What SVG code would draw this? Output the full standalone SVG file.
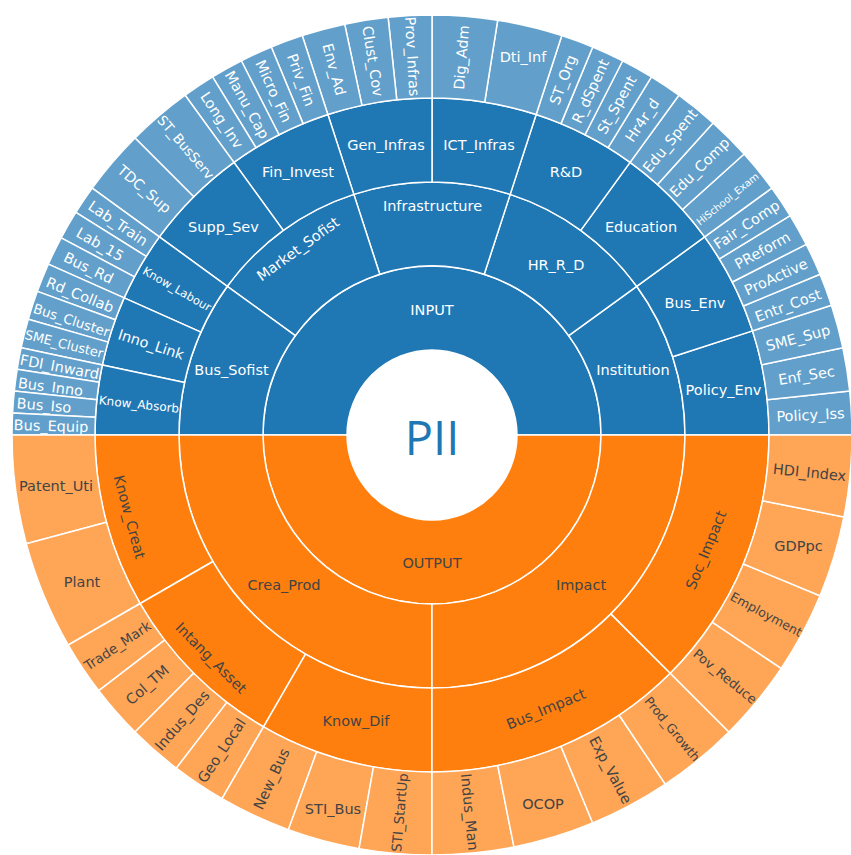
<svg xmlns="http://www.w3.org/2000/svg" width="851" height="855" viewBox="0 0 851 855">
<style>
.s{stroke:#fff;stroke-width:1.5;stroke-linejoin:round}
.a{fill:#1f77b4}.b{fill:#62a0cb}.c{fill:#ff7f0e}.d{fill:#ffa556}
text{font-family:"DejaVu Sans",Verdana,sans-serif;font-size:14.5px;text-anchor:middle;dominant-baseline:central}
.w{fill:#fff}.k{fill:#444}
</style>
<rect width="851" height="855" fill="#fff"/>
<g id="root-PII">
<circle cx="432" cy="435" r="85" fill="#fff"/>
<text x="432" y="437" style="font-family:'Open Sans','DejaVu Sans',sans-serif;font-size:47px;fill:#1f77b4">PII</text>
</g>
<g id="ring1">
<g id="n-INPUT"><path class="s a" d="M601,435 A169,169 0 0 0 263,435 L347,435 A85,85 0 0 1 517,435 Z"/><text class="w" x="432" y="310">INPUT</text></g>
<g id="n-OUTPUT"><path class="s c" d="M263,435 A169,169 0 0 0 601,435 L517,435 A85,85 0 0 1 347,435 Z"/><text class="k" x="432" y="563">OUTPUT</text></g>
</g>
<g id="ring2">
<g id="n-Institution"><path class="s a" d="M685,435 A253,253 0 0 0 636.68,286.29 L568.72,335.66 A169,169 0 0 1 601,435 Z"/><text class="w" x="633" y="370">Institution</text></g>
<g id="n-HR_R_D"><path class="s a" d="M636.68,286.29 A253,253 0 0 0 510.18,194.38 L484.22,274.27 A169,169 0 0 1 568.72,335.66 Z"/><text class="w" x="556" y="265">HR_R_D</text></g>
<g id="n-Infrastructure"><path class="s a" d="M510.18,194.38 A253,253 0 0 0 353.82,194.38 L379.78,274.27 A169,169 0 0 1 484.22,274.27 Z"/><text class="w" x="432.5" y="206">Infrastructure</text></g>
<g id="n-Market_Sofist"><path class="s a" d="M353.82,194.38 A253,253 0 0 0 227.32,286.29 L295.28,335.66 A169,169 0 0 1 379.78,274.27 Z"/><text class="w" transform="translate(298,249) rotate(-36)">Market_Sofist</text></g>
<g id="n-Bus_Sofist"><path class="s a" d="M227.32,286.29 A253,253 0 0 0 179,435 L263,435 A169,169 0 0 1 295.28,335.66 Z"/><text class="w" x="231.5" y="370">Bus_Sofist</text></g>
<g id="n-Crea_Prod"><path class="s c" d="M179,435 A253,253 0 0 0 432,688 L432,604 A169,169 0 0 1 263,435 Z"/><text class="k" x="284" y="585">Crea_Prod</text></g>
<g id="n-Impact"><path class="s c" d="M432,688 A253,253 0 0 0 685,435 L601,435 A169,169 0 0 1 432,604 Z"/><text class="k" x="581" y="585">Impact</text></g>
</g>
<g id="ring3">
<g id="n-Policy_Env"><path class="s a" d="M769,435 A337,337 0 0 0 752.51,330.86 L672.62,356.82 A253,253 0 0 1 685,435 Z"/><text class="w" x="723.5" y="389.5">Policy_Env</text></g>
<g id="n-Bus_Env"><path class="s a" d="M752.51,330.86 A337,337 0 0 0 704.64,236.92 L636.68,286.29 A253,253 0 0 1 672.62,356.82 Z"/><text class="w" x="695" y="302.5">Bus_Env</text></g>
<g id="n-Education"><path class="s a" d="M704.64,236.92 A337,337 0 0 0 630.08,162.36 L580.71,230.32 A253,253 0 0 1 636.68,286.29 Z"/><text class="w" x="641" y="227">Education</text></g>
<g id="n-R_D"><path class="s a" d="M630.08,162.36 A337,337 0 0 0 536.14,114.49 L510.18,194.38 A253,253 0 0 1 580.71,230.32 Z"/><text class="w" x="566" y="172">R&amp;D</text></g>
<g id="n-ICT_Infras"><path class="s a" d="M536.14,114.49 A337,337 0 0 0 432,98 L432,182 A253,253 0 0 1 510.18,194.38 Z"/><text class="w" x="479" y="145">ICT_Infras</text></g>
<g id="n-Gen_Infras"><path class="s a" d="M432,98 A337,337 0 0 0 327.86,114.49 L353.82,194.38 A253,253 0 0 1 432,182 Z"/><text class="w" x="386" y="145">Gen_Infras</text></g>
<g id="n-Fin_Invest"><path class="s a" d="M327.86,114.49 A337,337 0 0 0 233.92,162.36 L283.29,230.32 A253,253 0 0 1 353.82,194.38 Z"/><text class="w" x="298" y="172">Fin_Invest</text></g>
<g id="n-Supp_Sev"><path class="s a" d="M233.92,162.36 A337,337 0 0 0 159.36,236.92 L227.32,286.29 A253,253 0 0 1 283.29,230.32 Z"/><text class="w" x="223.5" y="227">Supp_Sev</text></g>
<g id="n-Know_Labour"><path class="s a" d="M159.36,236.92 A337,337 0 0 0 124.14,297.93 L200.87,332.10 A253,253 0 0 1 227.32,286.29 Z"/><text class="w" style="font-size:11.5px" transform="translate(177,289) rotate(30)">Know_Labour</text></g>
<g id="n-Inno_Link"><path class="s a" d="M124.14,297.93 A337,337 0 0 0 102.36,364.93 L184.53,382.40 A253,253 0 0 1 200.87,332.10 Z"/><text class="w" transform="translate(151,344.5) rotate(18)">Inno_Link</text></g>
<g id="n-Know_Absorb"><path class="s a" d="M102.36,364.93 A337,337 0 0 0 95,435 L179,435 A253,253 0 0 1 184.53,382.40 Z"/><text class="w" style="font-size:12px" transform="translate(139,404.5) rotate(6)">Know_Absorb</text></g>
<g id="n-Know_Creat"><path class="s c" d="M95,435 A337,337 0 0 0 140.15,603.50 L212.90,561.50 A253,253 0 0 1 179,435 Z"/><text class="k" transform="translate(129.5,517) rotate(75)">Know_Creat</text></g>
<g id="n-Intang_Asset"><path class="s c" d="M140.15,603.50 A337,337 0 0 0 263.50,726.85 L305.50,654.10 A253,253 0 0 1 212.90,561.50 Z"/><text class="k" transform="translate(211,658) rotate(45)">Intang_Asset</text></g>
<g id="n-Know_Dif"><path class="s c" d="M263.50,726.85 A337,337 0 0 0 432,772 L432,688 A253,253 0 0 1 305.50,654.10 Z"/><text class="k" x="356" y="721">Know_Dif</text></g>
<g id="n-Bus_Impact"><path class="s c" d="M432,772 A337,337 0 0 0 670.29,673.29 L610.90,613.90 A253,253 0 0 1 432,688 Z"/><text class="k" transform="translate(546,709) rotate(-22.5)">Bus_Impact</text></g>
<g id="n-Soc_Impact"><path class="s c" d="M670.29,673.29 A337,337 0 0 0 769,435 L685,435 A253,253 0 0 1 610.90,613.90 Z"/><text class="k" transform="translate(706,550) rotate(-67.5)">Soc_Impact</text></g>
</g>
<g id="ring4">
<g id="n-Policy_Iss"><path class="s b" d="M852,435 A420,420 0 0 0 849.70,391.10 L767.15,399.77 A337,337 0 0 1 769,435 Z"/><text class="w" transform="translate(810.5,415) rotate(-3)">Policy_Iss</text></g>
<g id="n-Enf_Sec"><path class="s b" d="M849.70,391.10 A420,420 0 0 0 842.82,347.68 L761.64,364.93 A337,337 0 0 1 767.15,399.77 Z"/><text class="w" transform="translate(806.5,375.5) rotate(-9)">Enf_Sec</text></g>
<g id="n-SME_Sup"><path class="s b" d="M842.82,347.68 A420,420 0 0 0 831.44,305.21 L752.51,330.86 A337,337 0 0 1 761.64,364.93 Z"/><text class="w" transform="translate(798,338) rotate(-15)">SME_Sup</text></g>
<g id="n-Entr_Cost"><path class="s b" d="M831.44,305.21 A420,420 0 0 0 820.03,274.27 L743.35,306.04 A337,337 0 0 1 752.51,330.86 Z"/><text class="w" transform="translate(788,305.5) rotate(-20.25)">Entr_Cost</text></g>
<g id="n-ProActive"><path class="s b" d="M820.03,274.27 A420,420 0 0 0 806.22,244.32 L732.27,282.01 A337,337 0 0 1 743.35,306.04 Z"/><text class="w" transform="translate(776,277) rotate(-24.75)">ProActive</text></g>
<g id="n-PReform"><path class="s b" d="M806.22,244.32 A420,420 0 0 0 790.11,215.55 L719.34,258.92 A337,337 0 0 1 732.27,282.01 Z"/><text class="w" transform="translate(762.5,250.5) rotate(-29.25)">PReform</text></g>
<g id="n-Fair_Comp"><path class="s b" d="M790.11,215.55 A420,420 0 0 0 771.79,188.13 L704.64,236.92 A337,337 0 0 1 719.34,258.92 Z"/><text class="w" transform="translate(746.7,224.7) rotate(-33.75)">Fair_Comp</text></g>
<g id="n-HiSchool_Exam"><path class="s b" d="M771.79,188.13 A420,420 0 0 0 744.12,153.96 L682.44,209.50 A337,337 0 0 1 704.64,236.92 Z"/><text class="w" style="font-size:10px" transform="translate(727.5,199) rotate(-39)">HiSchool_Exam</text></g>
<g id="n-Edu_Comp"><path class="s b" d="M744.12,153.96 A420,420 0 0 0 713.04,122.88 L657.50,184.56 A337,337 0 0 1 682.44,209.50 Z"/><text class="w" transform="translate(699.6,167.4) rotate(-45)">Edu_Comp</text></g>
<g id="n-Edu_Spent"><path class="s b" d="M713.04,122.88 A420,420 0 0 0 678.87,95.21 L630.08,162.36 A337,337 0 0 1 657.50,184.56 Z"/><text class="w" transform="translate(670.2,140.8) rotate(-51)">Edu_Spent</text></g>
<g id="n-Hr4r_d"><path class="s b" d="M678.87,95.21 A420,420 0 0 0 651.45,76.89 L608.08,147.66 A337,337 0 0 1 630.08,162.36 Z"/><text class="w" transform="translate(642.3,120.3) rotate(-56.25)">Hr4r_d</text></g>
<g id="n-St_Spent"><path class="s b" d="M651.45,76.89 A420,420 0 0 0 622.68,60.78 L584.99,134.73 A337,337 0 0 1 608.08,147.66 Z"/><text class="w" transform="translate(616.9,104.8) rotate(-60.75)">St_Spent</text></g>
<g id="n-R_dSpent"><path class="s b" d="M622.68,60.78 A420,420 0 0 0 592.73,46.97 L560.96,123.65 A337,337 0 0 1 584.99,134.73 Z"/><text class="w" transform="translate(590.5,91.3) rotate(-65.25)">R_dSpent</text></g>
<g id="n-ST_Org"><path class="s b" d="M592.73,46.97 A420,420 0 0 0 561.79,35.56 L536.14,114.49 A337,337 0 0 1 560.96,123.65 Z"/><text class="w" transform="translate(563,79.9) rotate(-69.75)">ST_Org</text></g>
<g id="n-Dti_Inf"><path class="s b" d="M561.79,35.56 A420,420 0 0 0 497.70,20.17 L484.72,102.15 A337,337 0 0 1 536.14,114.49 Z"/><text class="w" x="523" y="56.5">Dti_Inf</text></g>
<g id="n-Dig_Adm"><path class="s b" d="M497.70,20.17 A420,420 0 0 0 432,15 L432,98 A337,337 0 0 1 484.72,102.15 Z"/><text class="w" transform="translate(461.5,57.5) rotate(-85.5)">Dig_Adm</text></g>
<g id="n-Prov_Infras"><path class="s b" d="M432,15 A420,420 0 0 0 388.10,17.30 L396.77,99.85 A337,337 0 0 1 432,98 Z"/><text class="w" transform="translate(412.2,56.5) rotate(87)">Prov_Infras</text></g>
<g id="n-Clust_Cov"><path class="s b" d="M388.10,17.30 A420,420 0 0 0 344.68,24.18 L361.93,105.36 A337,337 0 0 1 396.77,99.85 Z"/><text class="w" transform="translate(372.8,61.2) rotate(81)">Clust_Cov</text></g>
<g id="n-Env_Ad"><path class="s b" d="M344.68,24.18 A420,420 0 0 0 302.21,35.56 L327.86,114.49 A337,337 0 0 1 361.93,105.36 Z"/><text class="w" transform="translate(334,69.4) rotate(75)">Env_Ad</text></g>
<g id="n-Priv_Fin"><path class="s b" d="M302.21,35.56 A420,420 0 0 0 271.27,46.97 L303.04,123.65 A337,337 0 0 1 327.86,114.49 Z"/><text class="w" transform="translate(301,79.9) rotate(69.75)">Priv_Fin</text></g>
<g id="n-Micro_Fin"><path class="s b" d="M271.27,46.97 A420,420 0 0 0 241.32,60.78 L279.01,134.73 A337,337 0 0 1 303.04,123.65 Z"/><text class="w" transform="translate(273.5,91.3) rotate(65.25)">Micro_Fin</text></g>
<g id="n-Manu_Cap"><path class="s b" d="M241.32,60.78 A420,420 0 0 0 212.55,76.89 L255.92,147.66 A337,337 0 0 1 279.01,134.73 Z"/><text class="w" transform="translate(247.1,104.8) rotate(60.75)">Manu_Cap</text></g>
<g id="n-Long_Inv"><path class="s b" d="M212.55,76.89 A420,420 0 0 0 185.13,95.21 L233.92,162.36 A337,337 0 0 1 255.92,147.66 Z"/><text class="w" transform="translate(221.7,120.3) rotate(56.25)">Long_Inv</text></g>
<g id="n-ST_BusServ"><path class="s b" d="M185.13,95.21 A420,420 0 0 0 135.02,138.02 L193.71,196.71 A337,337 0 0 1 233.92,162.36 Z"/><text class="w" style="font-size:13.5px" transform="translate(186,147.2) rotate(49.5)">ST_BusServ</text></g>
<g id="n-TDC_Sup"><path class="s b" d="M135.02,138.02 A420,420 0 0 0 92.21,188.13 L159.36,236.92 A337,337 0 0 1 193.71,196.71 Z"/><text class="w" transform="translate(144.2,189) rotate(40.5)">TDC_Sup</text></g>
<g id="n-Lab_Train"><path class="s b" d="M92.21,188.13 A420,420 0 0 0 75.82,212.43 L146.21,256.42 A337,337 0 0 1 159.36,236.92 Z"/><text class="w" transform="translate(118,223.5) rotate(34)">Lab_Train</text></g>
<g id="n-Lab_15"><path class="s b" d="M75.82,212.43 A420,420 0 0 0 61.16,237.82 L134.45,276.79 A337,337 0 0 1 146.21,256.42 Z"/><text class="w" transform="translate(100,244.5) rotate(30)">Lab_15</text></g>
<g id="n-Bus_Rd"><path class="s b" d="M61.16,237.82 A420,420 0 0 0 48.31,264.17 L124.14,297.93 A337,337 0 0 1 134.45,276.79 Z"/><text class="w" transform="translate(88.5,268) rotate(26)">Bus_Rd</text></g>
<g id="n-Rd_Collab"><path class="s b" d="M48.31,264.17 A420,420 0 0 0 37.33,291.35 L115.32,319.74 A337,337 0 0 1 124.14,297.93 Z"/><text class="w" transform="translate(80,295) rotate(22)">Rd_Collab</text></g>
<g id="n-Bus_Cluster"><path class="s b" d="M37.33,291.35 A420,420 0 0 0 28.27,319.23 L108.05,342.11 A337,337 0 0 1 115.32,319.74 Z"/><text class="w" style="font-size:13.5px" transform="translate(71.5,320) rotate(18)">Bus_Cluster</text></g>
<g id="n-SME_Cluster"><path class="s b" d="M28.27,319.23 A420,420 0 0 0 21.18,347.68 L102.36,364.93 A337,337 0 0 1 108.05,342.11 Z"/><text class="w" style="font-size:13px" transform="translate(64,344) rotate(14)">SME_Cluster</text></g>
<g id="n-FDI_Inward"><path class="s b" d="M21.18,347.68 A420,420 0 0 0 17.17,369.30 L99.15,382.28 A337,337 0 0 1 102.36,364.93 Z"/><text class="w" transform="translate(59.5,367) rotate(10.5)">FDI_Inward</text></g>
<g id="n-Bus_Inno"><path class="s b" d="M17.17,369.30 A420,420 0 0 0 14.30,391.10 L96.85,399.77 A337,337 0 0 1 99.15,382.28 Z"/><text class="w" transform="translate(50.5,387) rotate(7.5)">Bus_Inno</text></g>
<g id="n-Bus_Iso"><path class="s b" d="M14.30,391.10 A420,420 0 0 0 12.58,413.02 L95.46,417.36 A337,337 0 0 1 96.85,399.77 Z"/><text class="w" transform="translate(44,405.5) rotate(4.5)">Bus_Iso</text></g>
<g id="n-Bus_Equip"><path class="s b" d="M12.58,413.02 A420,420 0 0 0 12,435 L95,435 A337,337 0 0 1 95.46,417.36 Z"/><text class="w" transform="translate(51,426) rotate(1.5)">Bus_Equip</text></g>
<g id="n-Patent_Uti"><path class="s d" d="M12,435 A420,420 0 0 0 26.31,543.70 L106.48,522.22 A337,337 0 0 1 95,435 Z"/><text class="k" x="56" y="486">Patent_Uti</text></g>
<g id="n-Plant"><path class="s d" d="M26.31,543.70 A420,420 0 0 0 68.27,645 L140.15,603.50 A337,337 0 0 1 106.48,522.22 Z"/><text class="k" x="82" y="581.5">Plant</text></g>
<g id="n-Trade_Mark"><path class="s d" d="M68.27,645 A420,420 0 0 0 98.79,690.68 L164.64,640.15 A337,337 0 0 1 140.15,603.50 Z"/><text class="k" style="font-size:13.5px" transform="translate(117.5,645.5) rotate(-33.75)">Trade_Mark</text></g>
<g id="n-Col_TM"><path class="s d" d="M98.79,690.68 A420,420 0 0 0 135.02,731.98 L193.71,673.29 A337,337 0 0 1 164.64,640.15 Z"/><text class="k" transform="translate(147.4,685) rotate(-41.25)">Col_TM</text></g>
<g id="n-Indus_Des"><path class="s d" d="M135.02,731.98 A420,420 0 0 0 176.32,768.21 L226.85,702.36 A337,337 0 0 1 193.71,673.29 Z"/><text class="k" transform="translate(182.2,720.5) rotate(-48.75)">Indus_Des</text></g>
<g id="n-Geo_Local"><path class="s d" d="M176.32,768.21 A420,420 0 0 0 222,798.73 L263.50,726.85 A337,337 0 0 1 226.85,702.36 Z"/><text class="k" transform="translate(221.7,750.5) rotate(-56.25)">Geo_Local</text></g>
<g id="n-New_Bus"><path class="s d" d="M222,798.73 A420,420 0 0 0 288.35,829.67 L316.74,751.68 A337,337 0 0 1 263.50,726.85 Z"/><text class="k" transform="translate(271.5,779) rotate(-65)">New_Bus</text></g>
<g id="n-STI_Bus"><path class="s d" d="M288.35,829.67 A420,420 0 0 0 359.07,848.62 L373.48,766.88 A337,337 0 0 1 316.74,751.68 Z"/><text class="k" x="333" y="809">STI_Bus</text></g>
<g id="n-STI_StartUp"><path class="s d" d="M359.07,848.62 A420,420 0 0 0 432,855 L432,772 A337,337 0 0 1 373.48,766.88 Z"/><text class="k" style="font-size:13.5px" transform="translate(399.5,812.5) rotate(-85)">STI_StartUp</text></g>
<g id="n-Indus_Man"><path class="s d" d="M432,855 A420,420 0 0 0 513.94,846.93 L497.75,765.52 A337,337 0 0 1 432,772 Z"/><text class="k" transform="translate(469.5,812) rotate(84.375)">Indus_Man</text></g>
<g id="n-OCOP"><path class="s d" d="M513.94,846.93 A420,420 0 0 0 592.73,823.03 L560.96,746.35 A337,337 0 0 1 497.75,765.52 Z"/><text class="k" x="543" y="804">OCOP</text></g>
<g id="n-Exp_Value"><path class="s d" d="M592.73,823.03 A420,420 0 0 0 665.34,784.22 L619.23,715.21 A337,337 0 0 1 560.96,746.35 Z"/><text class="k" transform="translate(610.5,770) rotate(61.875)">Exp_Value</text></g>
<g id="n-Prod_Growth"><path class="s d" d="M665.34,784.22 A420,420 0 0 0 728.98,731.98 L670.29,673.29 A337,337 0 0 1 619.23,715.21 Z"/><text class="k" style="font-size:12.5px" transform="translate(672.3,729) rotate(50.625)">Prod_Growth</text></g>
<g id="n-Pov_Reduce"><path class="s d" d="M728.98,731.98 A420,420 0 0 0 781.22,668.34 L712.21,622.23 A337,337 0 0 1 670.29,673.29 Z"/><text class="k" style="font-size:13px" transform="translate(725,676.5) rotate(39.375)">Pov_Reduce</text></g>
<g id="n-Employment"><path class="s d" d="M781.22,668.34 A420,420 0 0 0 820.03,595.73 L743.35,563.96 A337,337 0 0 1 712.21,622.23 Z"/><text class="k" style="font-size:12.5px" transform="translate(766.3,614.3) rotate(28.125)">Employment</text></g>
<g id="n-GDPpc"><path class="s d" d="M820.03,595.73 A420,420 0 0 0 843.93,516.94 L762.52,500.75 A337,337 0 0 1 743.35,563.96 Z"/><text class="k" x="798.5" y="546">GDPpc</text></g>
<g id="n-HDI_Index"><path class="s d" d="M843.93,516.94 A420,420 0 0 0 852,435 L769,435 A337,337 0 0 1 762.52,500.75 Z"/><text class="k" transform="translate(809.5,472.5) rotate(5.625)">HDI_Index</text></g>
</g>
</svg>
